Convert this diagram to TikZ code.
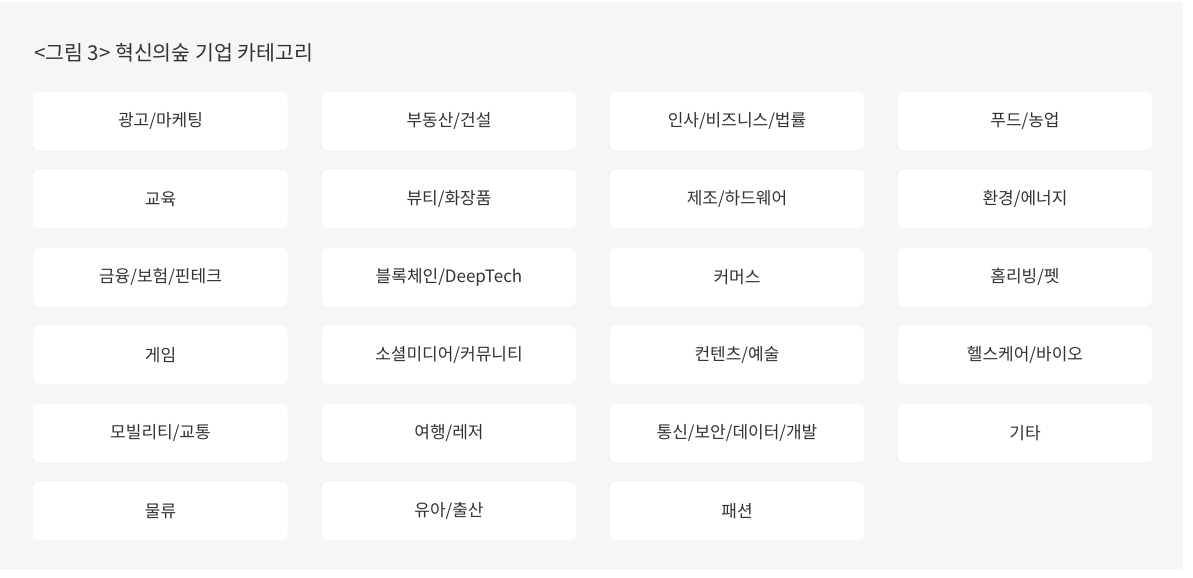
\documentclass[tikz,border=0pt]{standalone}
\usepackage{fontspec}
\setmainfont{Noto Sans CJK KR}
\definecolor{panel}{HTML}{F5F6F6}
\definecolor{txt}{HTML}{333333}
\begin{document}
\begin{tikzpicture}[x=1bp,y=-1bp,
  cat/.style={fill=white, rounded corners=5bp, minimum width=254bp, minimum height=58bp, inner sep=0pt, text=txt, font=\fontsize{17bp}{20bp}\selectfont},
  ttl/.style={anchor=west, inner sep=0pt, text=txt, font=\fontsize{20.5bp}{24bp}\selectfont}]
\useasboundingbox (0,0) rectangle (1193,578);
\fill[white] (0,0) rectangle (1193,578);
\fill[panel] (0,2) rectangle (1183,570);
\node[ttl] (title) at (34,53) {<그림 3> 혁신의숲 기업 카테고리};
% row 1
\node[cat] (c11) at (160.5,121) {광고/마케팅};
\node[cat] (c12) at (449,121) {부동산/건설};
\node[cat] (c13) at (737,121) {인사/비즈니스/법률};
\node[cat] (c14) at (1025,121) {푸드/농업};
% row 2
\node[cat] (c21) at (160.5,199) {교육};
\node[cat] (c22) at (449,199) {뷰티/화장품};
\node[cat] (c23) at (737,199) {제조/하드웨어};
\node[cat] (c24) at (1025,199) {환경/에너지};
% row 3
\node[cat] (c31) at (160.5,277) {금융/보험/핀테크};
\node[cat] (c32) at (449,277) {블록체인/DeepTech};
\node[cat] (c33) at (737,277) {커머스};
\node[cat] (c34) at (1025,277) {홈리빙/펫};
% row 4
\node[cat] (c41) at (160.5,355) {게임};
\node[cat] (c42) at (449,355) {소셜미디어/커뮤니티};
\node[cat] (c43) at (737,355) {컨텐츠/예술};
\node[cat] (c44) at (1025,355) {헬스케어/바이오};
% row 5
\node[cat] (c51) at (160.5,433) {모빌리티/교통};
\node[cat] (c52) at (449,433) {여행/레저};
\node[cat] (c53) at (737,433) {통신/보안/데이터/개발};
\node[cat] (c54) at (1025,433) {기타};
% row 6
\node[cat] (c61) at (160.5,511) {물류};
\node[cat] (c62) at (449,511) {유아/출산};
\node[cat] (c63) at (737,511) {패션};
\end{tikzpicture}
\end{document}
